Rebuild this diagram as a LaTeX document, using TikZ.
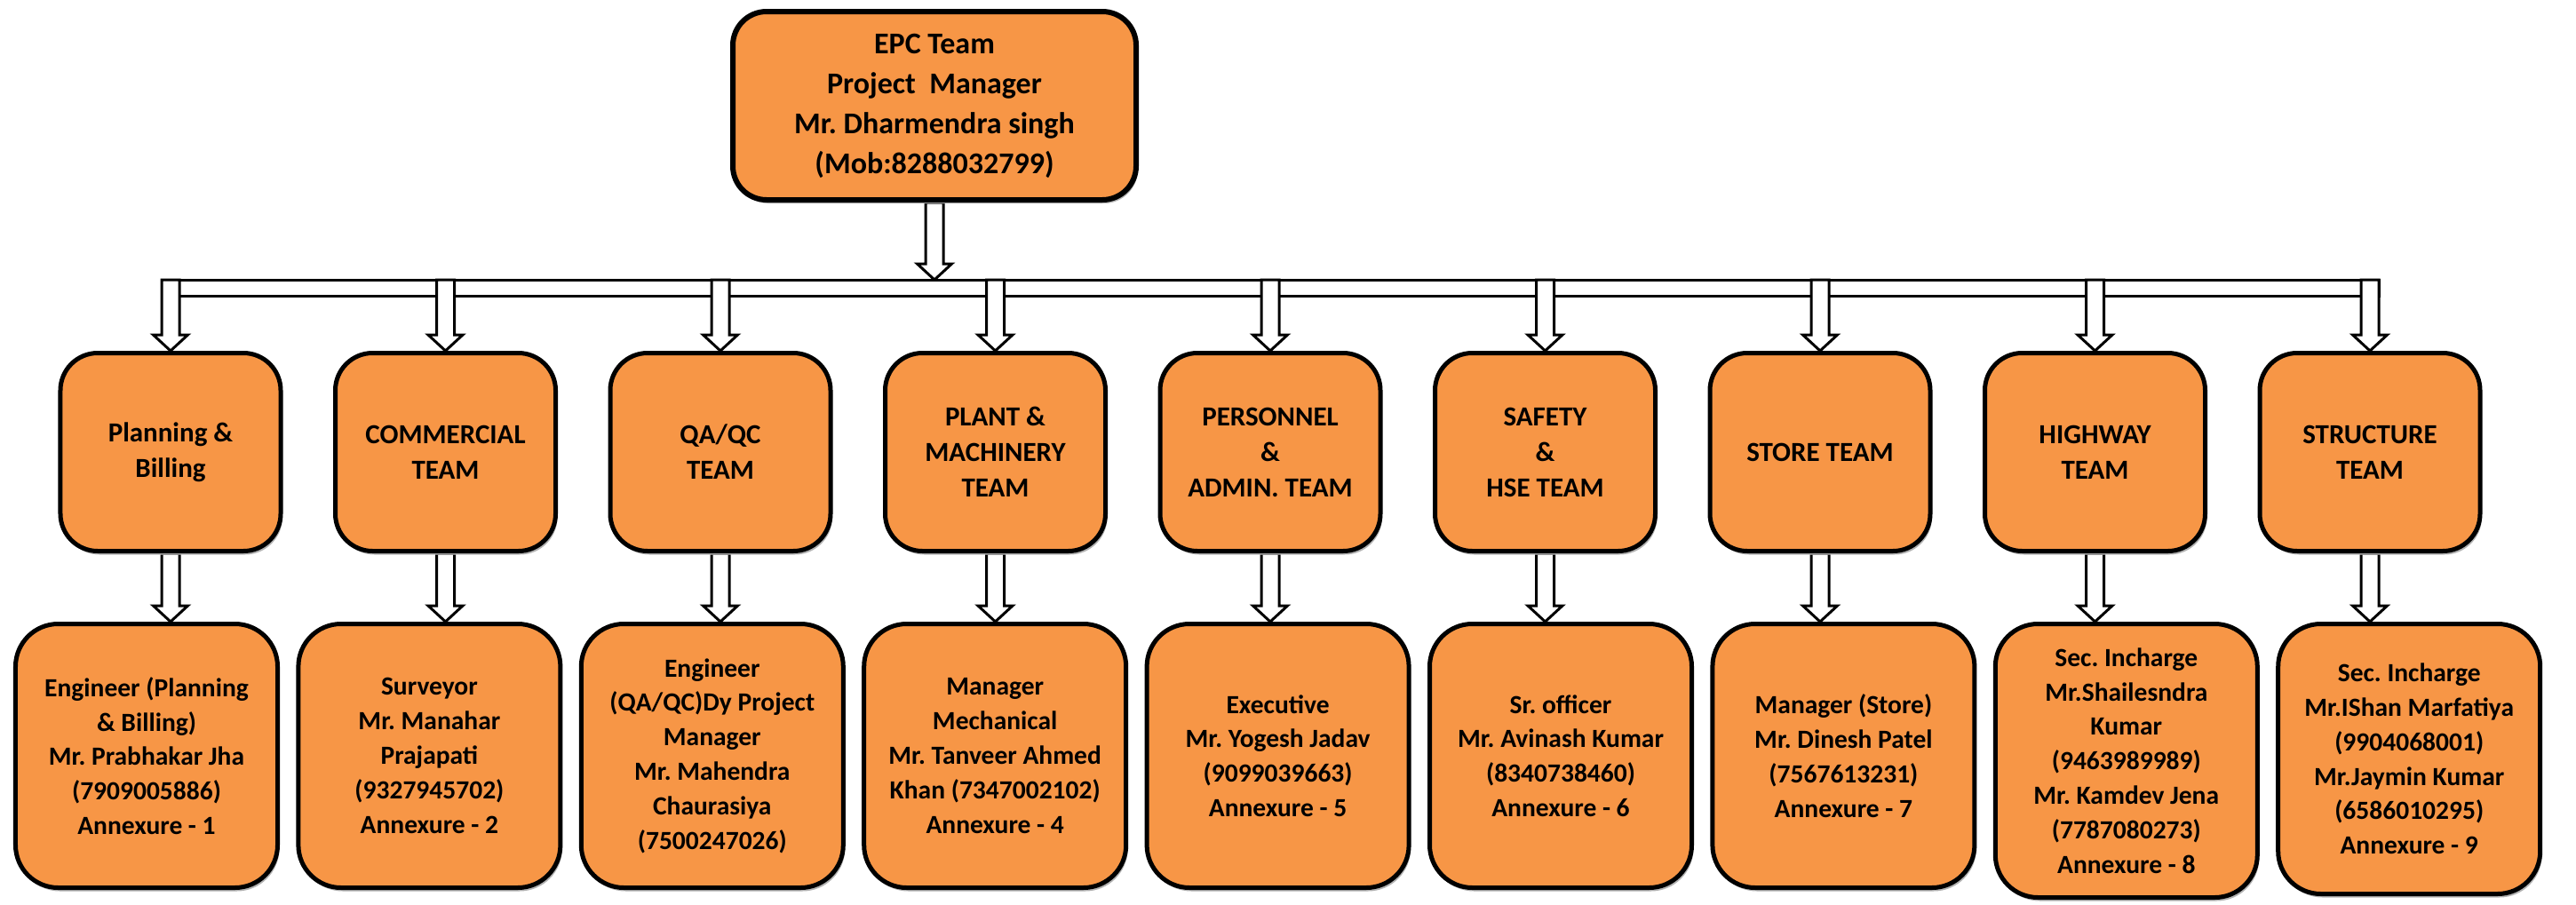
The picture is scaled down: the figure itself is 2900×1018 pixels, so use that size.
\documentclass[tikz,border=0pt]{standalone}
\usepackage{fontspec}
\setmainfont{Carlito}
\usetikzlibrary{calc,shadows,backgrounds}
\definecolor{boxorange}{RGB}{247,150,70}
\frenchspacing
\newcommand\blockarrow[2]{%
  \draw[arrowline] let \p1=(#1), \p2=(#2) in
    (\x1-10bp,\y1) -- (\x1-10bp,\y2+18bp) -- (\x1-19.5bp,\y2+18bp) -- (\x1,\y2)
    -- (\x1+19.5bp,\y2+18bp) -- (\x1+10bp,\y2+18bp) -- (\x1+10bp,\y1) -- cycle;}
\begin{document}
\begin{tikzpicture}[x=1bp,y=-1bp,
  box/.style={draw=black, fill=boxorange, line width=5bp, align=center, inner sep=0pt,
    general shadow={fill=black!30, shadow xshift=2bp, shadow yshift=-4bp}},
  topbox/.style={box, line width=6bp, minimum width=454bp, minimum height=212bp,
    rounded corners=38bp, font=\fontsize{34bp}{45bp}\selectfont\bfseries},
  teambox/.style={box, minimum width=248bp, minimum height=223bp,
    rounded corners=42bp, font=\fontsize{31bp}{40bp}\selectfont\bfseries},
  personbox/.style={box, minimum width=295bp, minimum height=297bp,
    rounded corners=48bp, font=\fontsize{29.5bp}{38.8bp}\selectfont\bfseries},
  arrowline/.style={draw=black, fill=white, line width=3bp, line join=miter}
]
\useasboundingbox (0,0) rectangle (2900,1018);

% top
\node[topbox] (epc) at (1052,119) {EPC Team\\Project~~Manager\\Mr. Dharmendra singh\\(Mob:8288032799)};
\coordinate (bus) at (1052,315);

% level 2
\node[teambox] (t1) at (192,509)    {Planning \&\\Billing};
\node[teambox] (t2) at (501.5,509)  {COMMERCIAL\\TEAM};
\node[teambox] (t3) at (811,509)    {QA/QC\\TEAM};
\node[teambox] (t4) at (1120.5,509) {PLANT \&\\MACHINERY\\TEAM};
\node[teambox] (t5) at (1430,509)   {PERSONNEL\\\&\\ADMIN. TEAM};
\node[teambox] (t6) at (1739.5,509) {SAFETY\\\&\\HSE TEAM};
\node[teambox] (t7) at (2049,509)   {STORE TEAM};
\node[teambox] (t8) at (2358.5,509) {HIGHWAY\\TEAM};
\node[teambox] (t9) at (2668,509)   {STRUCTURE\\TEAM};

% level 3
\node[personbox] (p1) at (165,851)    {Engineer (Planning\\\& Billing)\\Mr. Prabhakar Jha\\(7909005886)\\Annexure - 1};
\node[personbox] (p2) at (483.4,851)  {Surveyor\\Mr. Manahar\\Prajapati\\(9327945702)\\Annexure - 2};
\node[personbox] (p3) at (801.8,851)  {Engineer\\(QA/QC)Dy Project\\Manager\\Mr. Mahendra\\Chaurasiya\\(7500247026)};
\node[personbox] (p4) at (1120.2,851) {Manager\\Mechanical\\Mr. Tanveer Ahmed\\Khan (7347002102)\\Annexure - 4};
\node[personbox] (p5) at (1438.6,851) {Executive\\Mr. Yogesh Jadav\\(9099039663)\\Annexure - 5};
\node[personbox] (p6) at (1757,851)   {Sr. officer\\Mr. Avinash Kumar\\(8340738460)\\Annexure - 6};
\node[personbox] (p7) at (2075.4,851) {Manager (Store)\\Mr. Dinesh Patel\\(7567613231)\\Annexure - 7};
\node[personbox, minimum height=308bp] (p8) at (2393.8,856.5) {Sec. Incharge\\Mr.Shailesndra\\Kumar\\(9463989989)\\Mr. Kamdev Jena\\(7787080273)\\Annexure - 8};
\node[personbox, minimum height=304bp] (p9) at (2712.2,854.5) {Sec. Incharge\\Mr.IShan Marfatiya\\(9904068001)\\Mr.Jaymin Kumar\\(6586010295)\\Annexure - 9};

% connectors
\begin{scope}[on background layer]
  \blockarrow{epc.south}{epc.south |- bus}
  \draw[arrowline] ($(t1.north |- bus)+(-10,0)$) rectangle ($(t9.north |- bus)+(10,18)$);
  \foreach \i in {1,...,9} {
    \blockarrow{t\i.north |- bus}{t\i.north}
    \blockarrow{t\i.south}{t\i.south |- p\i.north}
  }
\end{scope}
\end{tikzpicture}
\end{document}
